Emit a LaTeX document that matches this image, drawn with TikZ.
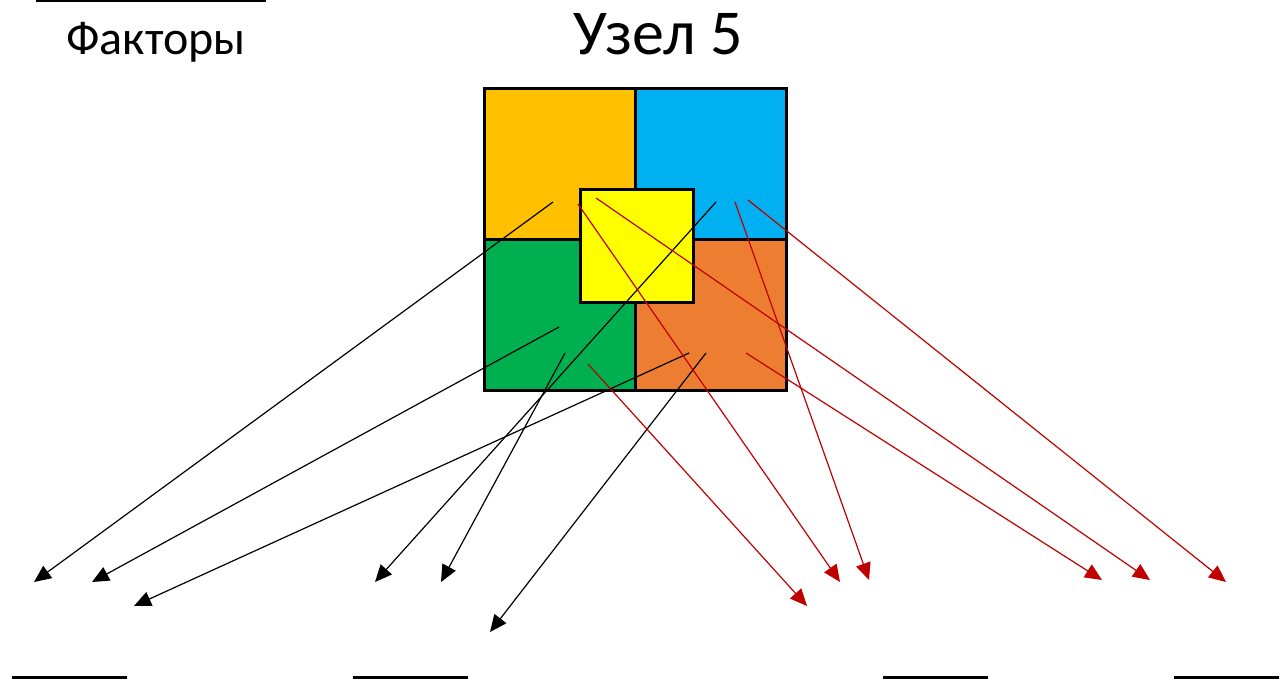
\documentclass[tikz,border=0pt]{standalone}
\usepackage{fontspec}
\setmainfont{Carlito}
\usetikzlibrary{arrows.meta}
\definecolor{cOrange}{HTML}{FFC000}
\definecolor{cBlue}{HTML}{00B0F0}
\definecolor{cGreen}{HTML}{00B050}
\definecolor{cDarkOrange}{HTML}{ED7D31}
\definecolor{cYellow}{HTML}{FFFF00}
\definecolor{cRed}{HTML}{C00000}
\begin{document}
\begin{tikzpicture}[x=1pt,y=-1pt,
  quad/.style={draw=black,line width=3pt,inner sep=0pt,outer sep=0pt},
  blk/.style={draw=black,line width=1.2pt,-{Triangle[length=17pt,width=15pt]}},
  redarr/.style={draw=cRed,line width=1.2pt,-{Triangle[length=17pt,width=15pt]},cRed},
  rule/.style={line width=3pt}]
\useasboundingbox (0,0) rectangle (1281,685);
\fill[white] (0,0) rectangle (1281,685);
% squares
\path[quad,fill=cOrange] (484,88) rectangle (635,239);
\path[quad,fill=cBlue] (635,88) rectangle (786,239);
\path[quad,fill=cGreen] (484,239) rectangle (635,390);
\path[quad,fill=cDarkOrange] (635,239) rectangle (786,390);
\node[quad,fill=cYellow,minimum width=113pt,minimum height=113pt] (core) at (636.5,245.5) {};
% titles
\node[font=\fontsize{64}{70}\selectfont,anchor=base] (title) at (658,55) {Узел 5};
\node[font=\fontsize{48}{54}\selectfont,anchor=base] (factors) at (156,55) {Факторы};
\draw[rule] (36,1) -- (266,1);
% bottom rules
\draw[rule] (12,677) -- (127,677);
\draw[rule] (353,677) -- (468,677);
\draw[rule] (883,677) -- (988,677);
\draw[rule] (1174,677) -- (1279,677);
% start coordinates
\coordinate (s1) at (553,202);
\coordinate (s2) at (559,327);
\coordinate (s3) at (689,353);
\coordinate (s4) at (716,202);
\coordinate (s5) at (565,353);
\coordinate (s6) at (706,353);
\coordinate (r1) at (578,204);
\coordinate (r2) at (596,198);
\coordinate (r3) at (735,202);
\coordinate (r4) at (748,200);
\coordinate (r5) at (746,353);
\coordinate (r6) at (588,364);
% end coordinates
\coordinate (e1) at (34,582);
\coordinate (e2) at (92,582);
\coordinate (e3) at (134,606);
\coordinate (e4) at (375,582);
\coordinate (e5) at (441,582);
\coordinate (e6) at (490,632);
\coordinate (t1) at (840,582);
\coordinate (t2) at (1150,580);
\coordinate (t3) at (869,580);
\coordinate (t4) at (1226,582);
\coordinate (t5) at (1102,580);
\coordinate (t6) at (807,606);
% black arrows
\draw[blk] (s1) -- (e1);
\draw[blk] (s2) -- (e2);
\draw[blk] (s3) -- (e3);
\draw[blk] (s4) -- (e4);
\draw[blk] (s5) -- (e5);
\draw[blk] (s6) -- (e6);
% red arrows
\draw[redarr] (r1) -- (t1);
\draw[redarr] (r2) -- (t2);
\draw[redarr] (r3) -- (t3);
\draw[redarr] (r4) -- (t4);
\draw[redarr] (r5) -- (t5);
\draw[redarr] (r6) -- (t6);
\end{tikzpicture}
\end{document}
